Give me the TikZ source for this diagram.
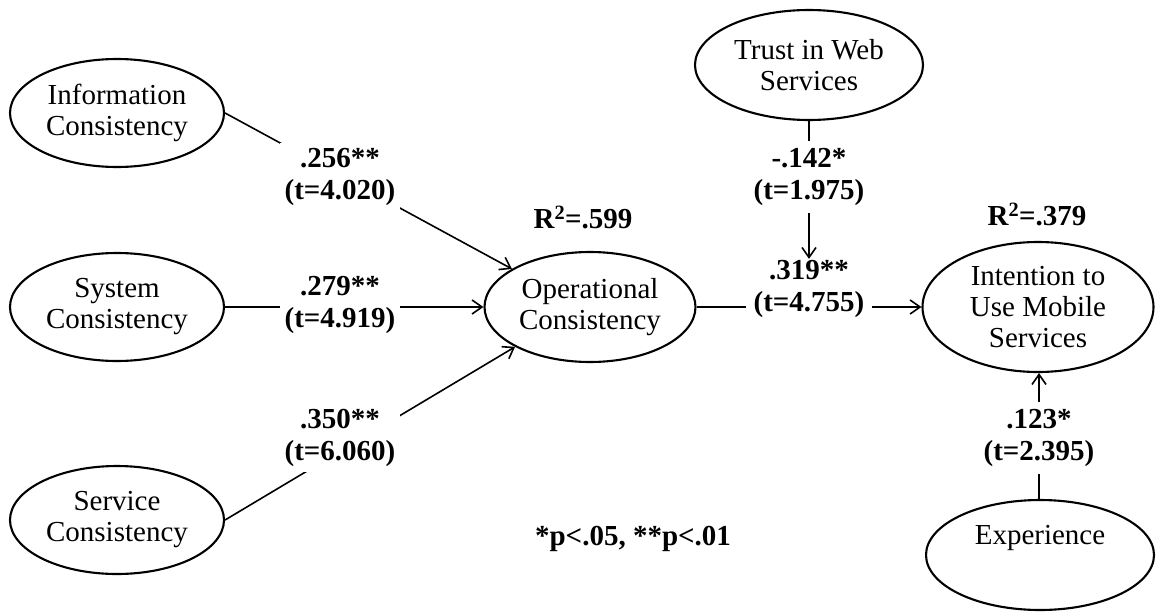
\documentclass[tikz,border=0pt]{standalone}
\usepackage{fontspec}
\setmainfont{Liberation Serif}
\usetikzlibrary{shapes.geometric,arrows.meta,backgrounds}
\begin{document}
\begin{tikzpicture}[x=1pt,y=1pt,
  lat/.style={ellipse,draw,line width=2.1pt,fill=white,inner sep=0pt,align=center,font=\fontsize{29}{31}\selectfont},
  lab/.style={fill=white,align=center,font=\fontsize{29}{32.5}\selectfont\bfseries,inner xsep=5pt,inner ysep=5pt},
  plain/.style={align=center,font=\fontsize{29}{32}\selectfont\bfseries},
  conn/.style={line width=1.6pt},
  arr/.style={conn,-{Straight Barb[length=10pt,width=14pt,line width=1.6pt]}}]
\useasboundingbox (0,0) rectangle (1156,-613);
% latent variables
\node[lat,minimum width=214pt,minimum height=108pt] (info) at (117,-113) {Information\\Consistency};
\node[lat,minimum width=214pt,minimum height=108pt] (sys) at (117,-307) {System\\Consistency};
\node[lat,minimum width=214pt,minimum height=108pt] (serv) at (117,-520) {Service\\Consistency};
\node[lat,minimum width=211pt,minimum height=110pt] (op) at (590,-307) {Operational\\Consistency};
\node[lat,minimum width=228pt,minimum height=110pt] (trust) at (809,-65) {Trust in Web\\Services};
\node[lat,minimum width=231pt,minimum height=130pt] (int) at (1038,-307) {Intention to\\Use Mobile\\Services};
\node[lat,minimum width=228pt,minimum height=110pt] (exp) at (1040,-555) {Experience\\[10pt]\phantom{X}};
% path labels
\node[lab] (l256) at (340,-177) {.256**\\(t=4.020)};
\node[lab] (l279) at (340,-305) {.279**\\(t=4.919)};
\node[lab] (l350) at (340,-438) {.350**\\(t=6.060)};
\node[lab,inner xsep=8pt,inner ysep=1pt] (l319) at (809,-289) {.319**\\(t=4.755)};
\node[lab,inner ysep=7pt] (l142) at (809,-177) {-.142*\\(t=1.975)};
\node[lab,inner ysep=7pt] (l123) at (1039,-438) {.123*\\(t=2.395)};
% R squared and note
\node[plain] (r599) at (583,-217) {R\textsuperscript{2}=.599};
\node[plain] (r379) at (1037,-214) {R\textsuperscript{2}=.379};
\node[plain] (note) at (633,-539) {*p<.05, **p<.01};
% connectors
\begin{pgfonlayer}{background}
\draw[arr] (info.east) -- (op.154);
\draw[arr] (sys.east) -- (op.west);
\draw[arr] (serv.east) -- (op.208);
\draw[arr] (op.east) -- (int.west);
\draw[arr] (trust.south) -- (l319.north);
\draw[arr] (exp.north -| l123.south) -- (l123.south |- int.south);
\end{pgfonlayer}
\end{tikzpicture}
\end{document}
